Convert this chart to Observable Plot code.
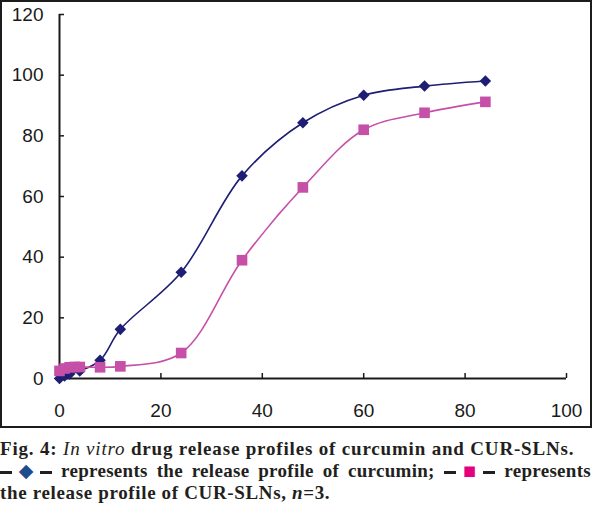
<!DOCTYPE html>
<html>
<head>
<meta charset="utf-8">
<script src="https://cdn.jsdelivr.net/npm/d3@7"></script>
<script src="https://cdn.jsdelivr.net/npm/@observablehq/plot@0.6"></script>
<style>
  html, body { margin: 0; padding: 0; background: #fff; }
  #wrap { position: relative; width: 592px; height: 428px; }
  #frame { position: absolute; left: 0; top: 0; width: 592px; height: 428px; box-sizing: border-box; border: 2px solid #1c1c1c; pointer-events: none; }
  #caption { width: 591px; font-family: "Liberation Serif", "Times New Roman", serif; font-size: 19px; font-weight: bold; color: #231f20; padding-top: 10px; letter-spacing: 0.65px; }
  #caption > div { height: 22px; line-height: 22px; overflow: visible; }
  #caption .l { white-space: nowrap; }
  #caption .l1 { letter-spacing: 0.82px; }
  #caption .j { text-align: justify; text-align-last: justify; white-space: normal; letter-spacing: 0.3px; }
  .dash { display: inline-block; width: 12px; height: 2.5px; background: #231f20; vertical-align: middle; }
  .sym { font-family: "DejaVu Sans", sans-serif; font-weight: normal; letter-spacing: 0; margin: 0 3px; line-height: 1; }
  .dia { color: #1f4c8c; font-size: 19px; }
  .sq { color: #e6007e; font-size: 21px; }
</style>
</head>
<body>
<div id="wrap"><div id="chart"></div><div id="frame"></div></div>
<div id="caption">
  <div class="l l1">Fig. 4: <i style="font-weight:normal">In vitro</i> drug release profiles of curcumin and CUR-SLNs.</div>
  <div class="j"><span class="dash"></span><span class="sym dia">◆</span><span class="dash"></span> represents the release profile of curcumin; <span class="dash"></span><span class="sym sq">▪</span><span class="dash"></span> represents</div>
  <div class="l">the release profile of CUR-SLNs, <i>n</i>=3.</div>
</div>
<script>
// Time points (h)
const curcuminTime = [0, 1, 2, 4, 8, 12, 24, 36, 48, 60, 72, 84];
const curcuminRelease = [0, 0.8, 1.5, 2.5, 6, 16.2, 35, 66.8, 84.3, 93.4, 96.4, 98.1];
const slnTime = [0, 1, 2, 3, 4, 8, 12, 24, 36, 48, 60, 72, 84];
const slnRelease = [2.5, 3.3, 3.7, 3.8, 3.8, 3.7, 4.0, 8.4, 39, 63, 82, 87.6, 91.2];
const xTicks = [0, 20, 40, 60, 80, 100];
const yTicks = [0, 20, 40, 60, 80, 100, 120];

const curcumin = curcuminTime.map((t, i) => ({t, v: curcuminRelease[i]}));
const sln = slnTime.map((t, i) => ({t, v: slnRelease[i]}));

const navy = "#1e1e74";
const pink = "#c64fa8";
const font = "'Liberation Sans', Arial, sans-serif";

const chart = Plot.plot({
  width: 592,
  height: 428,
  marginLeft: 59,
  marginRight: 26,
  marginTop: 14,
  marginBottom: 50,
  x: {domain: [0, 100]},
  y: {domain: [0, 120]},
  style: {fontFamily: font, fontSize: "19px", color: "#1a1a1a", background: "#fff"},
  marks: [
    Plot.ruleY([0], {stroke: "#1a1a1a", strokeWidth: 2}),
    Plot.ruleX([0], {stroke: "#1a1a1a", strokeWidth: 2}),
    Plot.axisX({ticks: xTicks, tickSize: -5, text: null, label: null, strokeWidth: 1.5}),
    Plot.axisX({ticks: xTicks, tickSize: 0, tickPadding: 25, label: null, tickFormat: d => d, fontSize: 19, fill: "#1a1a1a"}),
    Plot.axisY({ticks: yTicks, tickSize: -5, text: null, label: null, strokeWidth: 1.5}),
    Plot.axisY({ticks: yTicks, tickSize: 0, tickPadding: 16, label: null, tickFormat: d => d, fontSize: 19, fill: "#1a1a1a"}),
    Plot.line(curcumin, {x: "t", y: "v", curve: "catmull-rom", stroke: navy, strokeWidth: 1.6}),
    Plot.line(sln, {x: "t", y: "v", curve: "catmull-rom", stroke: pink, strokeWidth: 1.6}),
    Plot.dot(curcumin, {x: "t", y: "v", symbol: "diamond2", r: 5.2, fill: navy, stroke: null}),
    Plot.dot(sln, {x: "t", y: "v", symbol: "square", r: 6, fill: pink, stroke: null})
  ]
});
document.getElementById("chart").appendChild(chart);
</script>
</body>
</html>
